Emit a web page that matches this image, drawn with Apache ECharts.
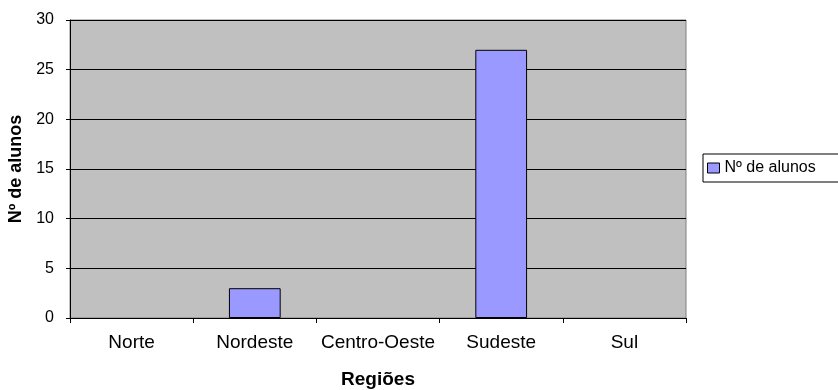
<!DOCTYPE html>
<html>
<head>
<meta charset="utf-8">
<script src="https://cdn.jsdelivr.net/npm/echarts@6/dist/echarts.min.js"></script>
<style>
  html, body { margin: 0; padding: 0; background: #fff; }
  #chart { width: 838px; height: 390px; }
</style>
</head>
<body>
<div id="chart"></div>
<script>
// dados
var regioes = ['Norte', 'Nordeste', 'Centro-Oeste', 'Sudeste', 'Sul'];
var alunos = [0, 3, 0, 27, 0];
var serieNome = 'Nº de alunos';

var fonte = '"Liberation Sans", Arial, sans-serif';
var chart = echarts.init(document.getElementById('chart'));
chart.setOption({
  animation: false,
  textStyle: { fontFamily: fonte },
  grid: {
    left: 70,
    top: 20,
    width: 616,
    height: 298,
    containLabel: false,
    outerBoundsMode: 'none',
    show: true,
    backgroundColor: '#c0c0c0',
    borderColor: '#808080',
    borderWidth: 1
  },
  legend: {
    data: [serieNome],
    left: 703,
    top: 154,
    orient: 'vertical',
    backgroundColor: '#fff',
    borderColor: '#000',
    borderWidth: 1,
    borderRadius: 0,
    padding: [6, 60, 6, 4],
    itemWidth: 12,
    itemHeight: 10,
    itemGap: 4,
    icon: 'rect',
    itemStyle: { borderColor: '#000', borderWidth: 1 },
    textStyle: { fontSize: 16, color: '#000', fontFamily: fonte }
  },
  xAxis: {
    type: 'category',
    data: regioes,
    name: 'Regiões',
    nameLocation: 'middle',
    nameGap: 52,
    nameTextStyle: { fontSize: 19, fontWeight: 'bold', color: '#000' },
    axisLine: { lineStyle: { color: '#000', width: 1 } },
    axisTick: { show: true, length: 5, alignWithLabel: false, lineStyle: { color: '#000' } },
    axisLabel: { fontSize: 19, color: '#000', margin: 15, interval: 0, hideOverlap: false }
  },
  yAxis: {
    type: 'value',
    min: 0,
    max: 30,
    interval: 5,
    name: 'Nº de alunos',
    nameLocation: 'middle',
    nameRotate: 90,
    nameGap: 45,
    nameTextStyle: { fontSize: 18, fontWeight: 'bold', color: '#000' },
    axisLine: { show: true, lineStyle: { color: '#000', width: 1 } },
    axisTick: { show: true, length: 4, lineStyle: { color: '#000' } },
    axisLabel: { fontSize: 16, color: '#000', margin: 16 },
    splitLine: { show: true, lineStyle: { color: '#000', width: 1 } }
  },
  series: [{
    name: serieNome,
    type: 'bar',
    // barras com valor zero não desenham contorno
    data: alunos.map(function (v) {
      return v === 0 ? { value: v, itemStyle: { borderWidth: 0 } } : v;
    }),
    barWidth: '42%',
    itemStyle: { color: '#9999ff', borderColor: '#000', borderWidth: 1 }
  }]
});
</script>
</body>
</html>
